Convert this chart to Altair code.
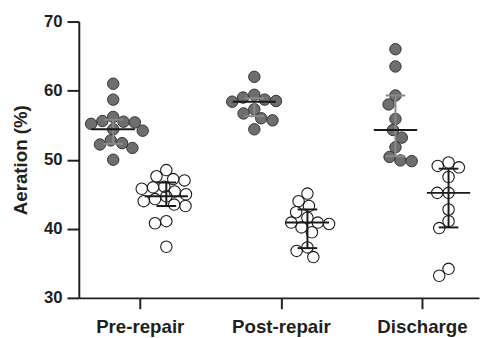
import altair as alt
import pandas as pd
import numpy as np

categories = ["Pre-repair", "Post-repair", "Discharge"]

pre_repair_filled = [61.0, 58.7, 56.2, 55.6, 55.2, 55.4, 55.5, 54.2, 54.4, 52.8, 52.2, 51.7, 52.4, 50.0]
pre_repair_open = [48.5, 47.6, 47.0, 47.2, 46.1, 45.8, 45.4, 45.0, 44.7, 44.3, 43.5, 43.3, 44.0, 46.0, 41.1, 40.8, 37.4]
post_repair_filled = [62.0, 59.4, 59.0, 58.7, 58.5, 58.4, 57.3, 56.7, 56.0, 55.7, 54.4]
post_repair_open = [45.1, 44.0, 43.3, 42.4, 41.6, 40.9, 40.9, 40.7, 40.2, 39.5, 37.3, 36.8, 35.9]
discharge_filled = [66.0, 63.5, 59.3, 58.0, 55.9, 54.3, 53.2, 51.8, 50.4, 49.9, 49.8]
discharge_open = [49.6, 49.1, 48.9, 47.5, 45.2, 45.2, 42.8, 41.1, 40.1, 34.2, 33.2]

# summary lines: centre line and bar ends
center_filled = [54.4, 58.4, 54.3]
low_filled = [52.3, 56.3, 50.5]
high_filled = [55.8, 58.9, 59.3]
center_open = [44.7, 40.9, 45.2]
low_open = [43.3, 37.2, 40.2]
high_open = [46.7, 42.8, 48.7]

W, H = 407, 281
XMIN, XMAX = -0.432, 2.404
YMIN, YMAX = 30, 70
px_x = W / (XMAX - XMIN)
px_y = H / (YMAX - YMIN)
SIDE = 27 / px_x
CAP = 10 / px_x
MED = 22 / px_x


def swarm(vals, dmin=11.5):
    vals = np.asarray(vals, dtype=float)
    order = np.argsort(-vals, kind="stable")
    placed = []
    offs = np.zeros(len(vals))
    cands = sorted(np.arange(-30, 30.01, 0.5), key=lambda d: (abs(d), d))
    for i in order:
        y = vals[i] * px_y
        chosen = 0.0
        for d in cands:
            if all((d - px) ** 2 + (y - py) ** 2 >= dmin ** 2 for px, py in placed):
                chosen = d
                break
        placed.append((chosen, y))
        offs[i] = chosen
    return offs


rows = []
groups_filled = [pre_repair_filled, post_repair_filled, discharge_filled]
groups_open = [pre_repair_open, post_repair_open, discharge_open]
for gi in range(3):
    for kind, vals, sgn in (("filled", groups_filled[gi], -1), ("open", groups_open[gi], 1)):
        offs = swarm(vals)
        for v, o in zip(vals, offs):
            rows.append({"group": categories[gi], "kind": kind, "value": v,
                         "x": gi + sgn * SIDE + o / px_x})
pts = pd.DataFrame(rows)

srows = []
for gi in range(3):
    for kind, c, lo, hi, sgn in (("filled", center_filled, low_filled, high_filled, -1),
                                 ("open", center_open, low_open, high_open, 1)):
        xc = gi + sgn * SIDE
        srows.append({"kind": kind, "xc": xc, "center": c[gi], "low": lo[gi], "high": hi[gi],
                      "capl": xc - CAP, "capr": xc + CAP, "medl": xc - MED, "medr": xc + MED})
summ = pd.DataFrame(srows)

xscale = alt.Scale(domain=[XMIN, XMAX], nice=False, zero=False)
yscale = alt.Scale(domain=[YMIN, YMAX], nice=False, zero=False)

xaxis = alt.Axis(values=[0, 1, 2], title=None, grid=False, tickSize=11, labelPadding=9,
                 labelFontSize=19,
                 labelExpr="['Pre-repair','Post-repair','Discharge'][datum.value]")
yaxis = alt.Axis(values=[30, 40, 50, 60, 70], title="Aeration (%)", grid=False,
                 tickSize=12, labelPadding=5, titlePadding=13, labelFontSize=17, titleFontSize=19)

base_pts = alt.Chart(pts)

filled = base_pts.transform_filter(alt.datum.kind == "filled").mark_circle(
    size=135, fill="#6e6e6e", stroke="#333333", strokeWidth=1, opacity=1
).encode(x=alt.X("x:Q", scale=xscale, axis=xaxis), y=alt.Y("value:Q", scale=yscale, axis=yaxis))

opened = base_pts.transform_filter(alt.datum.kind == "open").mark_point(
    shape="circle", size=135, filled=False, stroke="#1a1a1a", strokeWidth=1.1, opacity=1
).encode(x="x:Q", y="value:Q")

sb = alt.Chart(summ)
fcol = alt.condition(alt.datum.kind == "filled", alt.value("#8a8a8a"), alt.value("#1a1a1a"))

vbar = sb.mark_rule(strokeWidth=2).encode(x="xc:Q", y="low:Q", y2="high:Q", color=fcol)
cap_lo = sb.mark_rule(strokeWidth=2).encode(x="capl:Q", x2="capr:Q", y="low:Q", color=fcol)
cap_hi = sb.mark_rule(strokeWidth=2).encode(x="capl:Q", x2="capr:Q", y="high:Q", color=fcol)
med = sb.mark_rule(strokeWidth=2, color="#1a1a1a").encode(x="medl:Q", x2="medr:Q", y="center:Q")

chart = alt.layer(filled, opened, vbar, cap_lo, cap_hi, med).properties(
    width=W, height=H,
    autosize=alt.AutoSizeParams(type="none"),
    padding={"left": 72, "top": 11, "right": 1, "bottom": 37},
).configure_view(stroke=None).configure_axis(
    domainColor="#231f20", domainWidth=2, tickColor="#231f20", tickWidth=2,
    labelFont="Liberation Sans", labelFontWeight="bold", labelColor="#231f20",
    titleFont="Liberation Sans", titleFontWeight="bold", titleColor="#231f20",
)

chart.save("out.html", embed_options={"renderer": "svg", "actions": False})
